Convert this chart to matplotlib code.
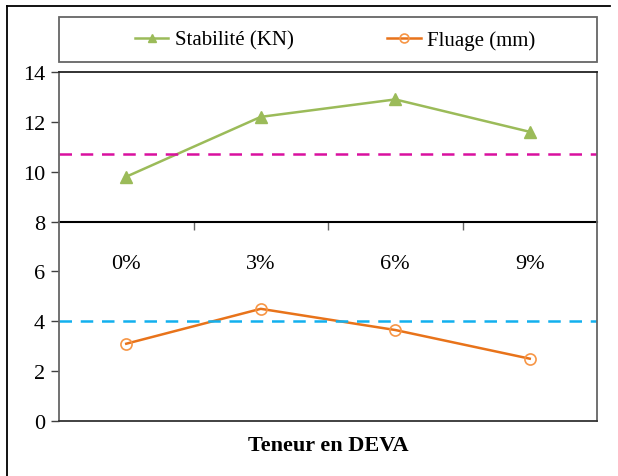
import numpy as np
import matplotlib.pyplot as plt
from matplotlib.lines import Line2D
from matplotlib.patches import Rectangle

plt.rcParams['font.family'] = ['Liberation Serif', 'DejaVu Serif']

categories = ['0%', '3%', '6%', '9%']
stabilite = [9.8, 12.2, 12.9, 11.6]   # KN
fluage = [3.1, 4.5, 3.65, 2.5]        # mm
seuil_stab = 10.7
seuil_flu = 4.0

W, H = 618, 477
fig = plt.figure(figsize=(W / 100, H / 100), dpi=100)
ax = fig.add_axes([59 / W, 1 - 422 / H, 538 / W, 349 / H])

x = np.arange(len(categories)) + 0.5

ax.plot(x, stabilite, color='#9BBB59', lw=1.8, marker='^', ms=8,
        mfc='#9BBB59', mec='#9BBB59', label='Stabilité (KN)')
ax.plot(x, fluage, color='#E8731A', lw=1.8, marker='o', ms=8,
        mfc='none', mec='#F79646', mew=1.2, label='Fluage (mm)')
ax.axhline(seuil_stab, color='#D9109F', lw=1.8, ls=(0, (5, 3.5)))
ax.axhline(seuil_flu, color='#12B0EE', lw=1.8, ls=(0, (5, 3.5)))

ax.set_xlim(0, len(categories))
ax.set_ylim(0, 14)
ax.set_yticks(range(0, 15, 2))
ax.tick_params(axis='y', direction='out', length=6, width=1, pad=4,
               labelsize=16, color='#404040')
ax.set_xticks([])
for s in ax.spines.values():
    s.set_color('#666666')
    s.set_linewidth(1.3)
ax.spines['top'].set_color('#222222')
ax.spines['bottom'].set_color('#333333')

# category axis crossing at 8
sec = ax.secondary_xaxis(8 / 14)
sec.set_alignment('bottom')
sec.spines['bottom'].set_color('black')
sec.spines['bottom'].set_linewidth(1.5)
sec.set_xticks(x)
sec.set_xticklabels(categories)
sec.set_xticks(np.arange(1, len(categories)), minor=True)
sec.tick_params(axis='x', which='major', length=0, pad=23, labelsize=16)
sec.tick_params(axis='x', which='minor', length=6, width=1, color='#666666')

ax.set_xlabel('Teneur en DEVA', fontsize=16, fontweight='bold', labelpad=10)

# legend box
fig.add_artist(Rectangle((59 / W, 1 - 63 / H), 538 / W, 45 / H,
                         transform=fig.transFigure, fill=False,
                         edgecolor='#666666', lw=1.3))
fig.legend(loc='center', bbox_to_anchor=(335 / W, 1 - 41 / H), ncol=2,
           frameon=False, fontsize=15, handlelength=1.6, handletextpad=0.3,
           columnspacing=4.5, markerscale=0.8)

# outer frame (top and left)
fig.add_artist(Line2D([7 / W, 610 / W], [1 - 7 / H, 1 - 7 / H],
                      transform=fig.transFigure, color='black', lw=1.3))
fig.add_artist(Line2D([7 / W, 7 / W], [1 - 7 / H, 0],
                      transform=fig.transFigure, color='black', lw=1.3))

fig.savefig('out.png', dpi=100)
